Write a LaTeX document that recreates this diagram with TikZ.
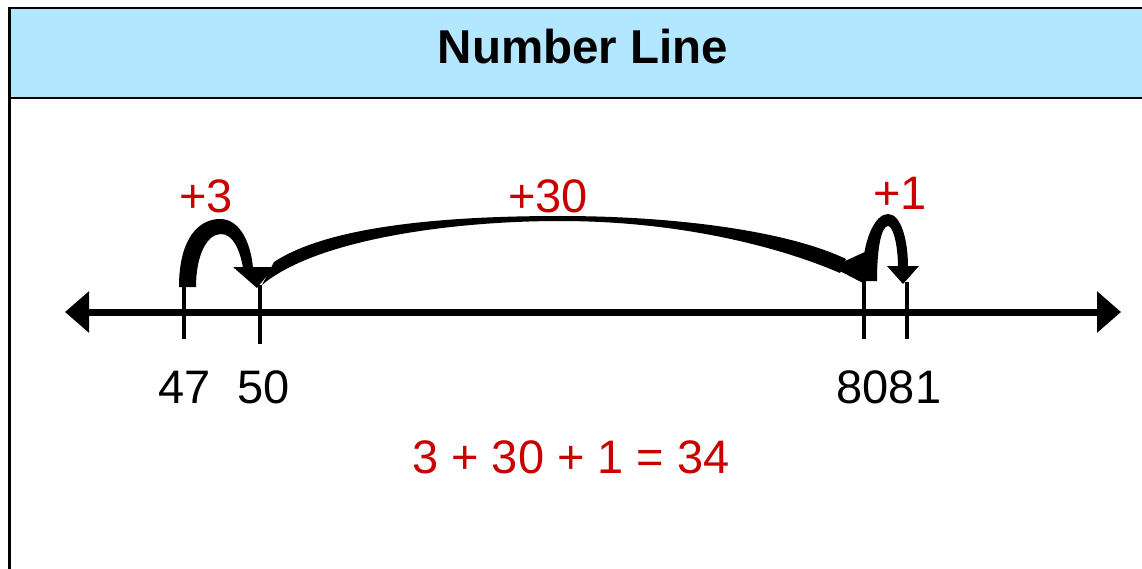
\documentclass[tikz,border=0pt]{standalone}
\usepackage{fontspec}
\setmainfont{Liberation Sans}
\usetikzlibrary{arrows.meta}
\definecolor{hdrblue}{RGB}{179,230,255}
\definecolor{jumpred}{RGB}{200,0,0}
\tikzset{
  big/.style={font=\fontsize{47}{56}\selectfont, inner sep=0pt, anchor=base},
  redlbl/.style={big, text=jumpred},
  tickline/.style={line width=4.5pt},
  jump/.style={fill=black, draw=none},
  axis/.style={line width=7pt, {Triangle[length=24pt,width=40pt]}-{Triangle[length=24pt,width=40pt]}}
}
\begin{document}
\begin{tikzpicture}[x=1pt,y=-1pt]
\useasboundingbox (0,0) rectangle (1142,568);
\clip (0,0) rectangle (1142,568);
% frame and header
\fill[white] (0,0) rectangle (1142,568);
\fill[hdrblue] (9.5,8) rectangle (1170,98);
\draw[line width=2.5pt] (9.5,600) -- (9.5,8) -- (1170,8);
\draw[line width=2.5pt] (9.5,98) -- (1170,98);
\node[big, font=\fontsize{47.5}{56}\selectfont\bfseries] (title) at (583,63) {Number Line};
% axis
\coordinate (axL) at (65,312);
\coordinate (axR) at (1121,312);
\draw[axis] (axL) -- (axR);
% ticks
\coordinate (t47t) at (184,286); \coordinate (t47b) at (184,339);
\coordinate (t50t) at (260,285); \coordinate (t50b) at (260,344);
\coordinate (t80t) at (864,280); \coordinate (t80b) at (864,339);
\coordinate (t81t) at (907,282); \coordinate (t81b) at (907,339);
\draw[tickline] (t47t) -- (t47b);
\draw[tickline] (t50t) -- (t50b);
\draw[tickline] (t80t) -- (t80b);
\draw[tickline] (t81t) -- (t81b);
% tick labels
\node[big] (l47) at (185,403) {47};
\node[big] (l50) at (264,403) {50};
\node[big] (l8081) at (889,403) {8081};
% +3 jump
\fill[jump] (179,287) .. controls (179,238) and (199,219) .. (220,219)
  .. controls (241,219) and (251,245) .. (253,268)
  -- (243,268) .. controls (240,250) and (233,234) .. (221,234)
  .. controls (207,234) and (196,255) .. (196,287) -- cycle;
\fill[jump] (233,267) -- (274,267) -- (257,288) -- cycle;
% +30 jump
\fill[jump] (274,262) .. controls (330,225) and (450,216) .. (560,216)
  .. controls (680,216) and (790,232) .. (846,259)
  -- (840,273) .. controls (780,247) and (680,221) .. (560,221)
  .. controls (450,221) and (315,240) .. (262,285) -- cycle;
\fill[jump] (832,267) -- (867,251) -- (863,283) -- cycle;
% +1 jump
\fill[jump] (862,281) .. controls (862,240) and (875,214) .. (888,214)
  .. controls (901,214) and (908,240) .. (908,267)
  -- (898,267) .. controls (898,245) and (893,226) .. (888,226)
  .. controls (882,226) and (877,245) .. (877,281) -- cycle;
\fill[jump] (887,266) -- (919,266) -- (903,284) -- cycle;
% jump labels
\node[redlbl] (p3) at (206,212) {+3};
\node[redlbl] (p30) at (548,212) {+30};
\node[redlbl] (p1) at (900,209) {+1};
% equation
\node[redlbl] (eq) at (571,473) {3 + 30 + 1 = 34};
\end{tikzpicture}
\end{document}
